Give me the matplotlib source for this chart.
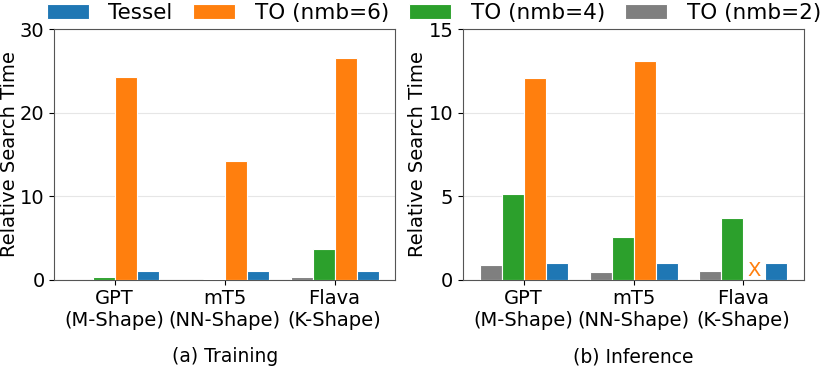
import matplotlib
matplotlib.use("Agg")
import matplotlib.pyplot as plt
import numpy as np

models = ["GPT\n(M-Shape)", "mT5\n(NN-Shape)", "Flava\n(K-Shape)"]
series = ["TO (nmb=2)", "TO (nmb=4)", "TO (nmb=6)", "Tessel"]
colors = ["#7f7f7f", "#2ca02c", "#ff7f0e", "#1f77b4"]

train_nmb2 = [0.0, 0.0, 0.3]
train_nmb4 = [0.35, 0.1, 3.7]
train_nmb6 = [24.3, 14.2, 26.6]
train_tessel = [1.0, 1.0, 1.0]

infer_nmb2 = [0.85, 0.45, 0.52]
infer_nmb4 = [5.12, 2.57, 3.67]
infer_nmb6 = [12.1, 13.1, 0.0]  # Flava: no result, drawn as X
infer_tessel = [1.0, 1.0, 1.0]

plt.rcParams["font.family"] = "DejaVu Sans"

fig, axes = plt.subplots(1, 2, figsize=(8.22, 3.68), dpi=100)
fig.subplots_adjust(left=0.066, right=0.978, top=0.92, bottom=0.24, wspace=0.2)

x = np.arange(len(models))
width = 0.2
offsets = [-0.3, -0.1, 0.1, 0.3]

panels = [
    (axes[0], [train_nmb2, train_nmb4, train_nmb6, train_tessel], 30, [0, 10, 20, 30], "(a) Training"),
    (axes[1], [infer_nmb2, infer_nmb4, infer_nmb6, infer_tessel], 15, [0, 5, 10, 15], "(b) Inference"),
]

handles = {}
for ax, vals, ymax, yticks, title in panels:
    for name, v, c, off in zip(series, vals, colors, offsets):
        b = ax.bar(x + off, v, width, color=c, edgecolor="white", linewidth=0.8,
                   label=name, zorder=3)
        handles[name] = b
    ax.set_ylim(0, ymax)
    ax.set_yticks(yticks)
    ax.set_xlim(-0.55, 2.55)
    ax.set_xticks(x)
    ax.set_xticklabels(models, fontsize=14)
    ax.tick_params(axis="y", labelsize=14)
    ax.set_ylabel("Relative Search Time", fontsize=14, labelpad=1)
    ax.set_xlabel(title, fontsize=13.5, labelpad=12)
    ax.grid(axis="y", color="#e6e6e6", linewidth=0.8, zorder=0)
    for s in ax.spines.values():
        s.set_color("#555555")

# missing TO (nmb=6) result for Flava inference
axes[1].text(x[2] + 0.1, 0.0, "X", color=colors[2], fontsize=14,
             ha="center", va="bottom", zorder=4)

order = ["Tessel", "TO (nmb=6)", "TO (nmb=4)", "TO (nmb=2)"]
fig.legend([handles[n] for n in order], order, loc="upper center",
           bbox_to_anchor=(0.528, 1.045), ncol=4, frameon=False, fontsize=15.5,
           handlelength=1.95, handletextpad=0.9, columnspacing=0.95)

fig.savefig("out.png", dpi=100)
